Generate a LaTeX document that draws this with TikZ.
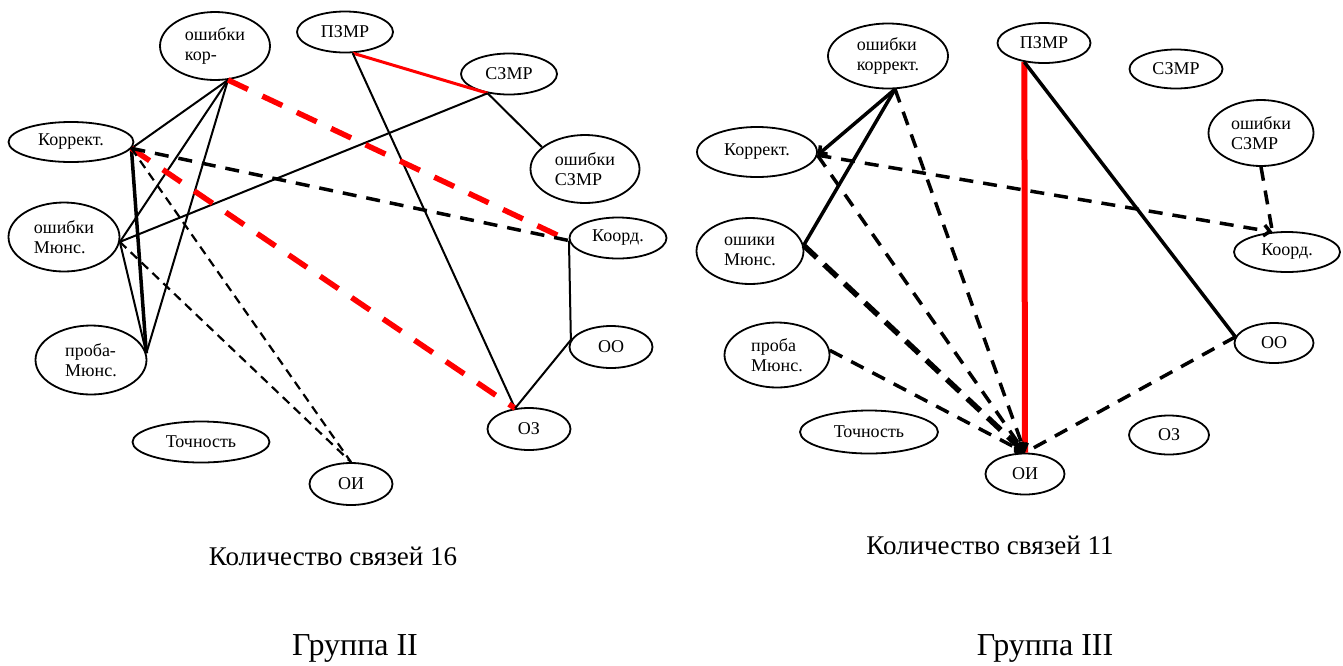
\documentclass[tikz,border=0pt]{standalone}
\usepackage{fontspec}
\setmainfont{Liberation Serif}
\usetikzlibrary{shapes.geometric,arrows.meta}

\begin{document}
\begin{tikzpicture}[x=1pt,y=-1pt,
    oval/.style={ellipse,draw,line width=1.8pt,inner sep=0pt,align=left,font=\fontsize{18}{20}\selectfont},
    lnk/.style={line width=2pt},
    lnkb/.style={line width=3.5pt},
    rline/.style={red,line width=3pt},
    rdash/.style={red,line width=5.5pt,dash pattern=on 22pt off 16pt},
    bdash/.style={line width=3.5pt,dash pattern=on 14pt off 10pt},
    tdash/.style={line width=2.2pt,dash pattern=on 9pt off 6pt},
    hdash/.style={line width=5.5pt,dash pattern=on 18pt off 10pt},
    tip/.style={-{Straight Barb[length=6pt,width=11pt]}},
    caption/.style={font=\fontsize{27}{30}\selectfont},
    grp/.style={font=\fontsize{32}{36}\selectfont}]

    \useasboundingbox (0,0) rectangle (1343,665);

    % Группа II
    \node[oval,minimum width=110pt,minimum height=68pt] (okor2) at (215,46) {ошибки\\кор-};
    \node[oval,minimum width=96pt,minimum height=41pt] (pzmr2) at (345,32) {ПЗМР};
    \node[oval,minimum width=96pt,minimum height=41pt] (szmr2) at (509,74) {СЗМР};
    \node[oval,minimum width=109pt,minimum height=68pt] (oszmr2) at (585,169) {ошибки\\СЗМР};
    \node[oval,minimum width=125pt,minimum height=40pt] (korr2) at (71,142) {Коррект.};
    \node[oval,minimum width=111pt,minimum height=69pt] (omun2) at (64,237) {ошибки\\Мюнс.};
    \node[oval,minimum width=111pt,minimum height=69pt] (pmun2) at (91,360) {проба-\\Мюнс.};
    \node[oval,minimum width=137pt,minimum height=41pt] (toch2) at (201,442) {Точность};
    \node[oval,minimum width=83pt,minimum height=42pt] (oi2) at (351,484) {ОИ};
    \node[oval,minimum width=83pt,minimum height=42pt] (oz2) at (529,429) {ОЗ};
    \node[oval,minimum width=83pt,minimum height=42pt] (oo2) at (611,347) {ОО};
    \node[oval,minimum width=97pt,minimum height=41pt] (koord2) at (618,238) {Коорд.};

    \draw[rline] (pzmr2.-70) -- (szmr2.-138);
    \draw[lnk] (pzmr2.-70) -- (oz2.124);
    \draw[lnk] (szmr2.-138) -- (oszmr2.153);
    \draw[lnk] (szmr2.-138) -- (omun2.-5);
    \draw[lnk] (okor2.-69) -- (korr2.-6);
    \draw[lnk] (okor2.-69) -- (omun2.-5);
    \draw[lnk] (okor2.-69) -- (pmun2.7);
    \draw[rdash] (okor2.-69) -- (koord2.183);
    \draw[lnkb] (korr2.-6) -- (pmun2.7);
    \draw[rdash] (korr2.-6) -- (oz2.124);
    \draw[bdash] (korr2.-6) -- (koord2.183);
    \draw[tdash] (korr2.-6) -- (oi2.north);
    \draw[lnk] (omun2.-5) -- (pmun2.7);
    \draw[tdash] (omun2.-5) -- (oi2.north);
    \draw[lnk] (koord2.183) -- (oo2.170);
    \draw[lnk] (oo2.170) -- (oz2.124);

    \node[caption] (cap2) at (333,556) {Количество связей 16};
    \node[grp] (grp2) at (355,648) {Группа II};

    % Группа III
    \node[oval,minimum width=120pt,minimum height=65pt] (okor3) at (888,56) {ошибки\\коррект.};
    \node[oval,minimum width=93pt,minimum height=40pt] (pzmr3) at (1044,43) {ПЗМР};
    \node[oval,minimum width=93pt,minimum height=39pt] (szmr3) at (1176,69) {СЗМР};
    \node[oval,minimum width=105pt,minimum height=66pt] (oszmr3) at (1261,133) {ошибки\\СЗМР};
    \node[oval,minimum width=120pt,minimum height=50pt] (korr3) at (757,152) {Коррект.};
    \node[oval,minimum width=107pt,minimum height=66pt] (omun3) at (750,251) {ошики\\Мюнс.};
    \node[oval,minimum width=105pt,minimum height=65pt] (pmun3) at (777,355) {проба\\Мюнс.};
    \node[oval,minimum width=138pt,minimum height=43pt] (toch3) at (869,432) {Точность};
    \node[oval,minimum width=79pt,minimum height=41pt] (oi3) at (1025,474) {ОИ};
    \node[oval,minimum width=80pt,minimum height=39pt] (oz3) at (1169,435) {ОЗ};
    \node[oval,minimum width=79pt,minimum height=40pt] (oo3) at (1274,343) {ОО};
    \node[oval,minimum width=106pt,minimum height=40pt] (koord3) at (1287,252) {Коорд.};

    \draw[red,line width=6pt] (pzmr3.-136) -- (oi3.north);
    \draw[lnkb] (pzmr3.-136) -- (oo3.171);
    \draw[lnkb,tip] (okor3.-78) -- (korr3.-3);
    \draw[lnkb] (okor3.-78) -- (omun3.6);
    \draw[bdash,tip] (okor3.-78) -- (oi3.north);
    \draw[bdash,tip] (korr3.-3) -- (oi3.north);
    \draw[bdash,tip] (korr3.-3) -- (koord3.126);
    \draw[bdash] (oszmr3.south) -- (koord3.126);
    \draw[hdash,tip] (omun3.6) -- (oi3.north);
    \draw[bdash,tip] (pmun3.5) -- (oi3.north);
    \draw[bdash] (oo3.171) -- (oi3.north);

    \node[caption] (cap3) at (990,545) {Количество связей 11};
    \node[grp] (grp3) at (1045,648) {Группа III};
\end{tikzpicture}
\end{document}
